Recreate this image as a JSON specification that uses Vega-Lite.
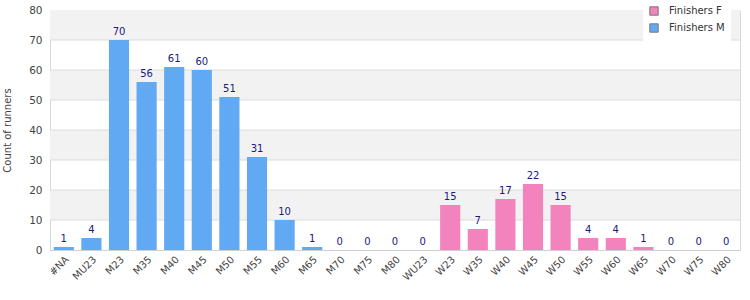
{
  "$schema": "https://vega.github.io/schema/vega-lite/v6.json",
  "width": 690,
  "height": 240,
  "autosize": {"type": "none"},
  "padding": {"left": 50, "top": 10, "right": 10, "bottom": 50},
  "background": "white",
  "config": {
    "font": "DejaVu Sans",
    "view": {"stroke": "#d8d8d8"},
    "axis": {"labelFont": "DejaVu Sans", "titleFont": "DejaVu Sans", "labelColor": "#444444", "titleColor": "#444444", "labelFontSize": 10, "titleFontSize": 10, "titleFontWeight": "normal"},
    "axisY": {"tickCount": 8, "labelOverlap": false, "grid": false, "ticks": false, "domain": false, "labelPadding": 8, "titlePadding": 16, "labelFontSize": 10.5, "labelFlush": false},
    "legend": {"labelFont": "DejaVu Sans", "labelFontSize": 10, "labelColor": "#333333"}
  },
  "datasets": {
    "bands": [
      {"lo": 10, "hi": 20},
      {"lo": 30, "hi": 40},
      {"lo": 50, "hi": 60},
      {"lo": 70, "hi": 80}
    ],
    "grid": [
      {"v": 10}, {"v": 20}, {"v": 30}, {"v": 40}, {"v": 50}, {"v": 60}, {"v": 70}
    ],
    "runners": [
      {"cat": "#NA", "count": 1, "series": "Finishers M"},
      {"cat": "MU23", "count": 4, "series": "Finishers M"},
      {"cat": "M23", "count": 70, "series": "Finishers M"},
      {"cat": "M35", "count": 56, "series": "Finishers M"},
      {"cat": "M40", "count": 61, "series": "Finishers M"},
      {"cat": "M45", "count": 60, "series": "Finishers M"},
      {"cat": "M50", "count": 51, "series": "Finishers M"},
      {"cat": "M55", "count": 31, "series": "Finishers M"},
      {"cat": "M60", "count": 10, "series": "Finishers M"},
      {"cat": "M65", "count": 1, "series": "Finishers M"},
      {"cat": "M70", "count": 0, "series": "Finishers M"},
      {"cat": "M75", "count": 0, "series": "Finishers M"},
      {"cat": "M80", "count": 0, "series": "Finishers M"},
      {"cat": "WU23", "count": 0, "series": "Finishers F"},
      {"cat": "W23", "count": 15, "series": "Finishers F"},
      {"cat": "W35", "count": 7, "series": "Finishers F"},
      {"cat": "W40", "count": 17, "series": "Finishers F"},
      {"cat": "W45", "count": 22, "series": "Finishers F"},
      {"cat": "W50", "count": 15, "series": "Finishers F"},
      {"cat": "W55", "count": 4, "series": "Finishers F"},
      {"cat": "W60", "count": 4, "series": "Finishers F"},
      {"cat": "W65", "count": 1, "series": "Finishers F"},
      {"cat": "W70", "count": 0, "series": "Finishers F"},
      {"cat": "W75", "count": 0, "series": "Finishers F"},
      {"cat": "W80", "count": 0, "series": "Finishers F"}
    ]
  },
  "layer": [
    {
      "data": {"name": "bands"},
      "mark": {"type": "rect", "color": "#f2f2f2"},
      "encoding": {
        "y": {"field": "lo", "type": "quantitative", "title": "Count of runners",
          "scale": {"domain": [0, 80], "nice": false}},
        "y2": {"field": "hi"}
      }
    },
    {
      "data": {"name": "grid"},
      "mark": {"type": "rule", "color": "#dcdcdc", "strokeWidth": 1},
      "encoding": {
        "y": {"field": "v", "type": "quantitative"}
      }
    },
    {
      "data": {"name": "runners"},
      "layer": [
        {
          "mark": {"type": "bar"},
          "encoding": {
            "x": {"field": "cat", "type": "nominal", "sort": null, "title": null,
              "scale": {"paddingInner": 0.27, "paddingOuter": 0.135},
              "axis": {"labelAngle": -45, "ticks": false, "domainColor": "#d0d0d0", "labelPadding": 4}},
            "y": {"field": "count", "type": "quantitative", "title": "Count of runners"},
            "color": {"field": "series", "type": "nominal",
              "scale": {"domain": ["Finishers F", "Finishers M"], "range": ["#f283bd", "#62a9f4"]},
              "legend": {"title": null, "orient": "none", "legendX": 593, "legendY": -10, "fillColor": "white", "padding": 6, "symbolType": "square", "symbolSize": 70, "symbolStrokeColor": "#777777", "symbolStrokeWidth": 1, "rowPadding": 3, "labelOffset": 10}}
          }
        },
        {
          "mark": {"type": "text", "baseline": "bottom", "dy": -3, "color": "#1a1a80", "fontSize": 10},
          "encoding": {
            "x": {"field": "cat", "type": "nominal", "sort": null},
            "y": {"field": "count", "type": "quantitative"},
            "text": {"field": "count", "type": "quantitative"}
          }
        }
      ]
    }
  ]
}
